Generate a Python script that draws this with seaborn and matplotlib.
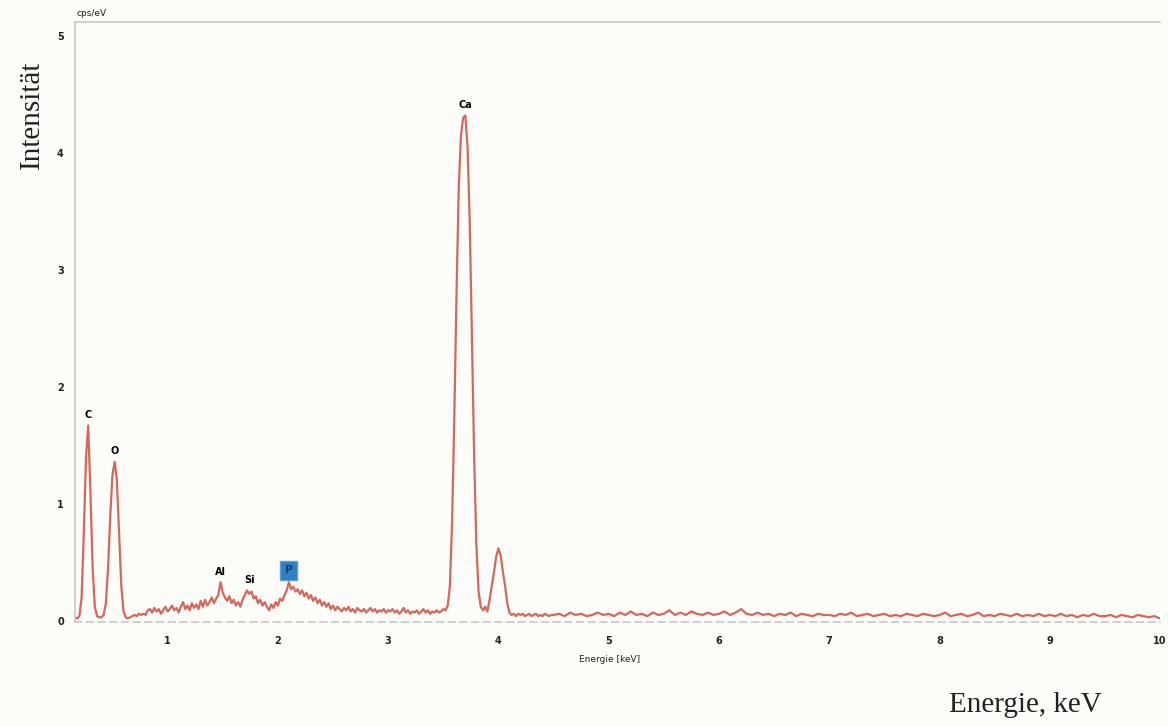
import numpy as np
import pandas as pd
import seaborn as sns
import matplotlib.pyplot as plt

start_low = 0.16
step_low = 0.02
counts_low = [
    0.03, 0.02, 0.04, 0.20, 0.75, 1.40, 1.67, 1.10, 0.45, 0.12,
    0.04, 0.03, 0.03, 0.05, 0.15, 0.45, 0.90, 1.25, 1.36, 1.20,
    0.75, 0.30, 0.08, 0.03, 0.02, 0.03, 0.04, 0.05, 0.04, 0.06,
    0.05, 0.06, 0.05, 0.09, 0.10, 0.07, 0.11, 0.08, 0.10, 0.06,
    0.09, 0.12, 0.08, 0.10, 0.13, 0.09, 0.11, 0.07, 0.12, 0.16,
    0.10, 0.13, 0.09, 0.15, 0.11, 0.14, 0.10, 0.17, 0.12, 0.18,
    0.13, 0.16, 0.20, 0.15, 0.19, 0.22, 0.33, 0.24, 0.20, 0.17,
    0.21, 0.15, 0.18, 0.13, 0.16, 0.12, 0.18, 0.22, 0.26, 0.23,
    0.25, 0.19, 0.21, 0.15, 0.18, 0.13, 0.16, 0.12, 0.09, 0.14,
    0.11, 0.16, 0.13, 0.19, 0.17, 0.22, 0.26, 0.33, 0.27, 0.29,
    0.25, 0.27, 0.23, 0.26, 0.21, 0.24, 0.19, 0.22, 0.17, 0.20,
    0.15, 0.18, 0.13, 0.16, 0.12, 0.15, 0.10, 0.13, 0.09, 0.12,
    0.10, 0.08, 0.11, 0.09, 0.12, 0.08, 0.10, 0.07, 0.11, 0.09,
    0.08, 0.10, 0.07, 0.09, 0.11, 0.08, 0.10, 0.07, 0.09, 0.08,
    0.10, 0.07, 0.09, 0.08, 0.10, 0.07, 0.09, 0.06, 0.08, 0.11,
    0.07, 0.09, 0.06, 0.08, 0.07, 0.09, 0.06, 0.08, 0.10, 0.07,
    0.09, 0.06, 0.08, 0.07, 0.09, 0.07, 0.08, 0.10, 0.09, 0.13,
    0.30, 0.85, 1.75, 2.80, 3.70, 4.15, 4.30, 4.32, 4.05, 3.40,
    2.40, 1.40, 0.65, 0.25, 0.12, 0.09, 0.12, 0.08, 0.18, 0.30,
    0.42, 0.55, 0.62, 0.56, 0.42, 0.30, 0.15, 0.07, 0.05, 0.06,
    0.04, 0.06, 0.05, 0.06, 0.04, 0.05, 0.06, 0.04, 0.05, 0.06,
    0.04, 0.05, 0.04, 0.06, 0.05, 0.04, 0.05,
]

# high-energy tail sampled every 0.05 keV from 4.5 keV
start_high = 4.50
step_high = 0.05
counts_high = [
    0.05, 0.06, 0.04, 0.07, 0.05, 0.06, 0.04, 0.05, 0.07, 0.05,
    0.06, 0.04, 0.07, 0.05, 0.08, 0.05, 0.06, 0.04, 0.07, 0.05,
    0.06, 0.09, 0.05, 0.07, 0.05, 0.08, 0.06, 0.05, 0.07, 0.05,
    0.06, 0.08, 0.05, 0.07, 0.10, 0.06, 0.05, 0.07, 0.05, 0.06,
    0.04, 0.06, 0.05, 0.07, 0.04, 0.06, 0.05, 0.04, 0.06, 0.05,
    0.05, 0.04, 0.06, 0.05, 0.07, 0.04, 0.05, 0.06, 0.04, 0.05,
    0.06, 0.04, 0.05, 0.04, 0.06, 0.05, 0.04, 0.06, 0.05, 0.04,
    0.05, 0.07, 0.04, 0.05, 0.06, 0.04, 0.05, 0.07, 0.04, 0.05,
    0.04, 0.06, 0.05, 0.04, 0.06, 0.04, 0.05, 0.04, 0.06, 0.04,
    0.05, 0.04, 0.06, 0.04, 0.05, 0.03, 0.05, 0.04, 0.06, 0.04,
    0.04, 0.05, 0.03, 0.05, 0.04, 0.03, 0.05, 0.04, 0.03, 0.04,
    0.02,
]

# peak labels
peak_names = ["C", "O", "Al", "Si", "Ca"]
peak_energy = [0.28, 0.52, 1.48, 1.74, 3.70]
peak_height = [1.67, 1.36, 0.33, 0.26, 4.32]
box_name = "P"
box_energy = 2.10
box_height = 0.33

x_ticks = [1, 2, 3, 4, 5, 6, 7, 8, 9, 10]
y_ticks = [0, 1, 2, 3, 4, 5]

e_low = start_low + step_low * np.arange(len(counts_low))
e_high = start_high + step_high * np.arange(len(counts_high))
df = pd.DataFrame({
    "Energie": np.concatenate([e_low, e_high]),
    "cps": counts_low + counts_high,
})

sns.set_style("white")
plt.rcParams["font.family"] = ["DejaVu Sans"]

fig = plt.figure(figsize=(11.68, 7.26), dpi=100, facecolor="#fcfcf8")
ax = fig.add_axes([0.0642, 0.1433, 0.929, 0.8264])
ax.set_facecolor("#fcfcf8")

sns.lineplot(data=df, x="Energie", y="cps", ax=ax, color="#d2685e", linewidth=1.6)

ax.set_xlim(0.16, 10.0)
ax.set_ylim(-0.01, 5.12)
ax.set_xticks(x_ticks)
ax.set_yticks(y_ticks)
ax.set_xticklabels([str(t) for t in x_ticks], fontsize=7, fontweight="bold", color="#222222")
ax.set_yticklabels([str(t) for t in y_ticks], fontsize=7, fontweight="bold", color="#222222")
ax.tick_params(axis="both", length=0)
ax.tick_params(axis="x", pad=10)
ax.tick_params(axis="y", pad=8)
ax.set_xlabel("")
ax.set_ylabel("")

for side in ["top", "left", "bottom"]:
    ax.spines[side].set_color("#c8c8c8")
    ax.spines[side].set_linewidth(1.2)
ax.spines["bottom"].set_linestyle((0, (4, 3)))
ax.spines["right"].set_visible(False)

for name, e, h in zip(peak_names, peak_energy, peak_height):
    ax.annotate(name, (e, h), xytext=(0, 4), textcoords="offset points",
                ha="center", va="bottom", fontsize=7, fontweight="bold", color="black")
ax.annotate(box_name, (box_energy, box_height), xytext=(0, 5), textcoords="offset points",
            ha="center", va="bottom", fontsize=7.5, fontweight="bold", color="#1a3f66",
            bbox=dict(boxstyle="square,pad=0.45", facecolor="#2f80c0", edgecolor="#5aa0d8"))

fig.text(92 / 1168, 1 - 13 / 726, "cps/eV", fontsize=6.5, ha="center", va="center", color="#222222")
fig.text(610 / 1168, 1 - 660 / 726, "Energie [keV]", fontsize=6.5, ha="center", va="center", color="#222222")
fig.text(0.027, 1 - 115 / 726, "Intensität", rotation=90, fontsize=21,
         family=["Liberation Serif"], ha="center", va="center", color="#222222")
fig.text(1025 / 1168, 1 - 705 / 726, "Energie, keV", fontsize=21,
         family=["Liberation Serif"], ha="center", va="center", color="#222222")

fig.savefig("out.png", dpi=100, facecolor=fig.get_facecolor())
